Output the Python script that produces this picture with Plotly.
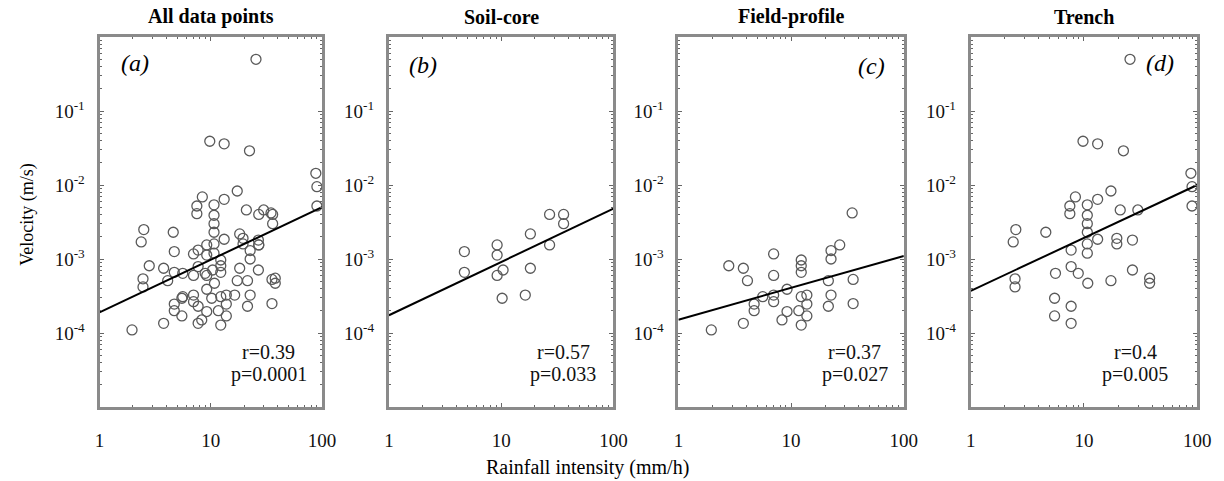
import plotly.graph_objects as go
import numpy as np

# ---------------- data ----------------
panel_titles = ["All data points", "Soil-core", "Field-profile", "Trench"]
panel_tags = ["(a)", "(b)", "(c)", "(d)"]
r_values = ["0.39", "0.57", "0.37", "0.4"]
p_values = ["0.0001", "0.033", "0.027", "0.005"]

# Soil-core: rainfall intensity (mm/h), velocity (m/s)
soil_x = [4.7, 4.7, 9.2, 9.2, 9.2, 10.4, 10.2, 16.4, 18.2, 18.2, 27, 27, 36, 36]
soil_y = [1.26e-3, 6.6e-4, 1.55e-3, 1.13e-3, 6.0e-4, 7.1e-4, 2.95e-4, 3.25e-4,
          7.5e-4, 2.18e-3, 4.0e-3, 1.55e-3, 4.0e-3, 3.0e-3]

# Field-profile
field_x = [1.96, 2.8, 3.77, 4.1, 3.77, 4.7, 4.7, 5.6, 7.0, 7.0, 7.0, 7.0, 8.3, 9.2,
           9.2, 12.3, 12.3, 11.7, 12.3, 13.8, 13.8, 13.8, 12.3, 21.4, 22.6, 21.4,
           22.6, 22.6, 27, 34.8, 35.5, 35.5, 12.3]
field_y = [1.1e-4, 8.1e-4, 7.5e-4, 5.1e-4, 1.35e-4, 2.46e-4, 2.0e-4, 3.1e-4,
           1.17e-3, 6.0e-4, 3.25e-4, 2.65e-4, 1.5e-4, 1.95e-4, 3.9e-4, 9.7e-4,
           6.6e-4, 2.0e-4, 1.28e-4, 3.25e-4, 2.46e-4, 1.7e-4, 3.1e-4, 5.1e-4,
           3.25e-4, 2.3e-4, 1.3e-3, 1.0e-3, 1.55e-3, 4.2e-3, 5.3e-4, 2.5e-4, 8.1e-4]

# Trench
trench_x = [25.5, 9.8, 13.2, 22.3, 88, 90, 90, 17.3, 8.4, 13.2, 7.5, 7.5, 10.7,
            10.7, 10.7, 10.7, 20.9, 29.9, 2.5, 2.37, 4.6, 10.7, 13.2, 19.5, 19.5,
            26.8, 7.7, 10.7, 7.7, 8.9, 5.6, 10.8, 17.3, 26.8, 38, 38, 2.46, 2.46,
            5.5, 5.5, 7.7, 7.7]
trench_y = [0.5, 0.039, 0.036, 0.029, 0.0144, 9.5e-3, 5.2e-3, 8.3e-3, 6.9e-3,
            6.4e-3, 5.2e-3, 4.1e-3, 5.4e-3, 3.9e-3, 3.0e-3, 2.3e-3, 4.6e-3,
            4.6e-3, 2.5e-3, 1.7e-3, 2.3e-3, 1.6e-3, 1.85e-3, 1.9e-3, 1.6e-3,
            1.8e-3, 1.32e-3, 1.2e-3, 7.9e-4, 6.4e-4, 6.4e-4, 4.7e-4, 5.1e-4,
            7.1e-4, 5.5e-4, 4.7e-4, 5.4e-4, 4.2e-4, 2.95e-4, 1.7e-4, 2.3e-4, 1.35e-4]

all_x = soil_x + field_x + trench_x
all_y = soil_y + field_y + trench_y

# Regression lines in log-log space: log10(v) = intercept + slope*log10(I)
fit_intercept = [-3.72, -3.76, -3.82, -3.43]
fit_slope = [0.71, 0.72, 0.43, 0.715]

x_ticks = [1, 10, 100]
y_ticks = [1e-4, 1e-3, 1e-2, 1e-1]
y_ticktext = ["10<sup>-4</sup>", "10<sup>-3</sup>", "10<sup>-2</sup>", "10<sup>-1</sup>"]

# ---------------- layout helpers ----------------
W, H = 1224, 481
SERIF = "Liberation Serif, Times New Roman, serif"

def px(x):
    return x / W

def py(y):
    return 1 - y / H

x_dom = [(96, 322), (390, 618), (684, 913), (981, 1211)]
y_top, y_bot = 37, 407

datasets = [(all_x, all_y), (soil_x, soil_y), (field_x, field_y), (trench_x, trench_y)]

fig = go.Figure()

minor_x = [m * 10 ** d for d in range(0, 2) for m in range(2, 10)]
minor_y = [m * 10 ** d for d in range(-5, 0) for m in range(2, 10)]


def note(x, y, text, size, color="black", **kw):
    fig.add_annotation(x=px(x), y=py(y), xref="paper", yref="paper", text=text,
                       showarrow=False, xanchor="center", yanchor="middle",
                       font=dict(family=SERIF, size=size, color=color), **kw)


for i, (xs, ys) in enumerate(datasets):
    ax = "" if i == 0 else str(i + 1)
    fig.add_trace(go.Scatter(
        x=xs, y=ys, mode="markers", xaxis="x" + ax, yaxis="y" + ax,
        marker=dict(symbol="circle-open", size=10, color="#5a5a5a",
                    line=dict(width=1.3, color="#5a5a5a")),
        showlegend=False, hoverinfo="x+y"))
    lx = np.array([1.0, 100.0])
    ly = 10 ** (fit_intercept[i] + fit_slope[i] * np.log10(lx))
    fig.add_trace(go.Scatter(
        x=lx, y=ly, mode="lines", xaxis="x" + ax, yaxis="y" + ax,
        line=dict(color="black", width=2), showlegend=False, hoverinfo="skip"))

    x0, x1 = x_dom[i]
    axis_common = dict(
        type="log", showgrid=False, zeroline=False,
        showline=True, mirror="allticks", linecolor="#8a8a8a", linewidth=3,
        ticks="inside", ticklen=4, tickwidth=1, tickcolor="#666",
        tickfont=dict(family=SERIF, size=19, color="#111"),
    )
    fig.layout["xaxis" + ax] = go.layout.XAxis(
        domain=[px(x0), px(x1)], range=[0, 2], anchor="y" + ax,
        tickvals=x_ticks, ticktext=[str(v) for v in x_ticks],
        ticklabelstandoff=14,
        minor=dict(tickvals=minor_x, ticks="inside", ticklen=2, tickcolor="#666"),
        **axis_common)
    fig.layout["yaxis" + ax] = go.layout.YAxis(
        domain=[py(y_bot), py(y_top)], range=[-5, 0], anchor="x" + ax,
        tickvals=y_ticks, ticktext=y_ticktext, ticklabelstandoff=8,
        minor=dict(tickvals=minor_y, ticks="inside", ticklen=2, tickcolor="#666"),
        **axis_common)

    # panel title
    note((x0 + x1) / 2, 17, "<b>%s</b>" % panel_titles[i], 20)
    # panel tag
    tx, ty = [(132, 63), (425, 65), (880, 66), (1173, 63)][i]
    note(tx, ty, "<i>%s</i>" % panel_tags[i], 24)
    # r / p
    rp_x = [268, 567, 863, 1148][i]
    note(rp_x, 352, "r=%s" % r_values[i], 20, color="#111")
    note(rp_x, 374, "p=%s" % p_values[i], 20, color="#111")

# axis titles
note(592, 467, "Rainfall intensity (mm/h)", 20)
note(22, 215, "Velocity (m/s)", 18, textangle=-90)

fig.update_layout(
    width=W, height=H, margin=dict(l=0, r=0, t=0, b=0),
    paper_bgcolor="white", plot_bgcolor="white", showlegend=False)

fig.write_html("out.html")
